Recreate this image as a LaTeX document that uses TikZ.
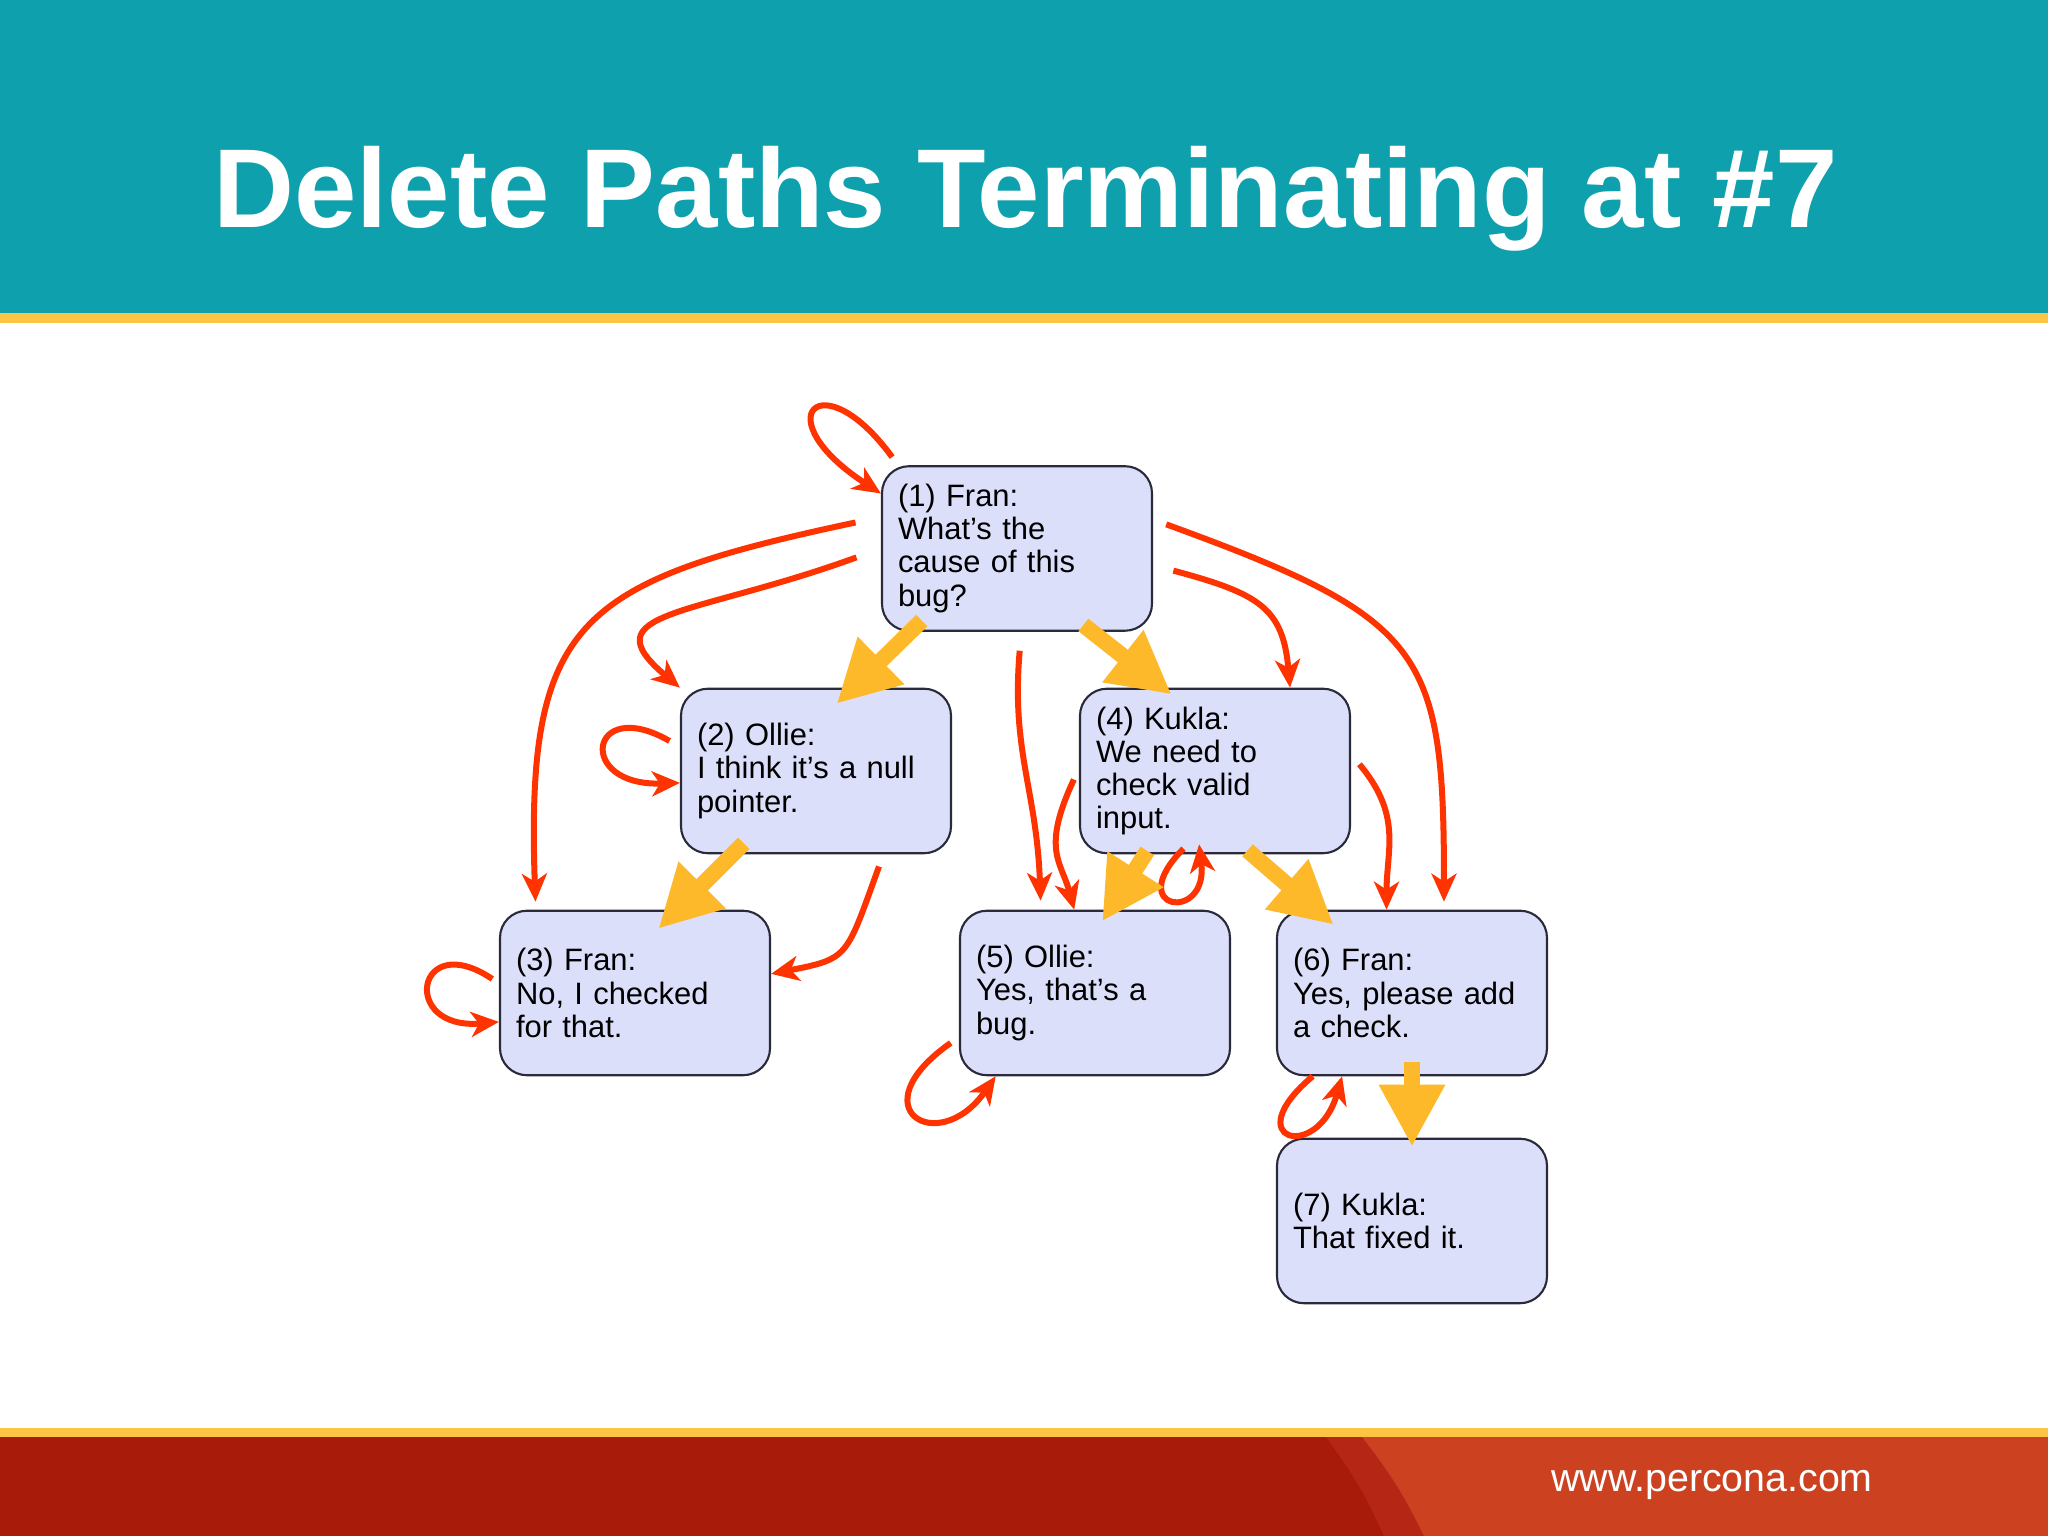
\documentclass[tikz,border=0pt]{standalone}
\usepackage{fontspec}
\setmainfont{Liberation Sans}
\usetikzlibrary{arrows.meta}
\definecolor{slideteal}{HTML}{0FA0AE}
\definecolor{slideyellow}{HTML}{FCC443}
\definecolor{footred}{HTML}{A81A0A}
\definecolor{footstripe}{HTML}{B52614}
\definecolor{footorange}{HTML}{CC4220}
\definecolor{boxfill}{HTML}{DCDFFA}
\definecolor{boxline}{HTML}{2A2A3A}
\definecolor{arcred}{HTML}{FF3300}
\definecolor{arrowyellow}{HTML}{FDB92A}

\begin{document}
\begin{tikzpicture}[x=1cm,y=1cm,
    msgbox/.style={draw=boxline, line width=0.6pt, fill=boxfill, rounded corners=0.27cm,
        minimum width=2.70cm, minimum height=1.645cm, text width=2.38cm, inner xsep=0.16cm,
        align=left, font=\fontsize{8.8}{9.4}\selectfont},
    redarc/.style={draw=arcred, line width=0.06cm,
        -{Stealth[length=0.28cm,width=0.25cm,inset=0.08cm]}, shorten <=0.12cm},
    treearrow/.style={draw=arrowyellow, line width=0.16cm,
        -{Triangle[length=0.62cm,width=0.62cm]}}]
    \useasboundingbox (0,0) rectangle (20.48,15.36);
    % Draw slide background
    \fill[white] (0,0) rectangle (20.48,15.36);
    \fill[slideteal] (0,12.23) rectangle (20.48,15.36);
    \fill[slideyellow] (0,12.13) rectangle (20.48,12.23);
    \fill[footred] (0,0) rectangle (20.48,0.99);
    \fill[footstripe] (13.26,0.99) to[bend left=6] (13.84,0) -- (20.48,0) -- (20.48,0.99) -- cycle;
    \fill[footorange] (13.62,0.99) to[bend left=6] (14.24,0) -- (20.48,0) -- (20.48,0.99) -- cycle;
    \fill[slideyellow] (0,0.99) rectangle (20.48,1.08);
    \node[white, font=\fontsize{31.9}{36}\selectfont\bfseries, anchor=base] (title) at (10.255,13.08) {Delete Paths Terminating at \#7};
    \node[white, font=\fontsize{11.2}{13}\selectfont, anchor=base] (url) at (17.12,0.445) {www.percona.com};
    % Draw message boxes
    \node[msgbox] (m1) at (10.17,9.875) {(1) Fran:\\What’s the\\cause of this\\bug?};
    \node[msgbox] (m2) at (8.16,7.65) {(2) Ollie:\\I think it’s a null\\pointer.};
    \node[msgbox] (m3) at (6.35,5.43) {(3) Fran:\\No, I checked\\for that.};
    \node[msgbox] (m4) at (12.15,7.65) {(4) Kukla:\\We need to\\check valid\\input.};
    \node[msgbox] (m5) at (10.95,5.43) {(5) Ollie:\\Yes, that’s a\\bug.};
    \node[msgbox] (m6) at (14.12,5.43) {(6) Fran:\\Yes, please add\\a check.};
    \node[msgbox] (m7) at (14.12,3.15) {(7) Kukla:\\That fixed it.};
    % Draw red paths
    \draw[redarc, shorten <=0.1cm] (m1.145) .. controls +(126:1.3) and +(147:1.4) .. (m1.158);
    \draw[redarc, shorten <=0.26cm, shorten >=0.08cm] (m1.167) .. controls +(192:3.1) and +(92:2.9) .. (m3.140);
    \draw[redarc, shorten <=0.26cm] (m1.west) .. controls +(200:2.0) and +(140:1.2) .. (m2.north west);
    \draw[redarc] (m2.170) .. controls +(150:1.05) and +(182:1.05) .. (m2.185);
    \draw[redarc, shorten <=0.13cm] (m2.309) .. controls +(250:1.1) and +(11:0.8) .. (m3.8);
    \draw[redarc, shorten <=0.08cm] (m3.176) .. controls +(146:1.0) and +(185:1.0) .. (m3.192);
    \draw[redarc, shorten <=0.19cm, shorten >=0.09cm] (m1.273) .. controls +(265:1.2) and +(92:1.2) .. (m5.123);
    \draw[redarc] (m4.179) .. controls +(245:0.9) and +(105:0.5) .. (m5.104);
    \draw[redarc, shorten <=-0.08cm, shorten >=-0.1cm] (m4.246) .. controls +(225:0.8) and +(277:0.7) .. (m4.260);
    \draw[redarc, shorten <=0.21cm] (m1.353) .. controls +(345:1.1) and +(95:0.8) .. (m4.48);
    \draw[redarc, shorten <=0.14cm, shorten >=0.08cm] (m1.12) .. controls +(340:2.9) and +(90:2.6) .. (m6.69);
    \draw[redarc, shorten <=0.13cm] (m4.7) .. controls +(310:0.8) and +(90:0.6) .. (m6.107);
    \draw[redarc, shorten <=0.1cm] (m5.198) .. controls +(215:1.25) and +(235:1.0) .. (m5.220);
    \draw[redarc, shorten <=0cm] (m6.220) .. controls +(220:1.0) and +(254:0.9) .. (m6.230);
    % Draw yellow tree arrows
    \draw[treearrow, shorten <=-0.16cm, shorten >=-0.23cm] (m1.218) -- (m2.66);
    \draw[treearrow, shorten <=-0.155cm, shorten >=-0.27cm] (m2.225) -- (m3.63);
    \draw[treearrow, shorten <=-0.11cm, shorten >=-0.11cm] (m1.312) -- (m4.122);
    \draw[treearrow, shorten <=-0.04cm, shorten >=-0.14cm] (m4.230) -- (m5.80);
    \draw[treearrow, shorten <=-0.06cm, shorten >=-0.23cm] (m4.294) -- (m6.139);
    \draw[treearrow, shorten <=-0.145cm, shorten >=-0.09cm] (m6.south) -- (m7.north);
\end{tikzpicture}
\end{document}
